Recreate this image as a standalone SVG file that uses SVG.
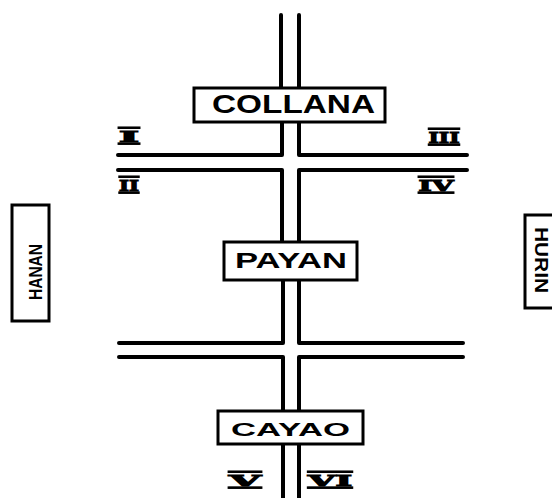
<svg xmlns="http://www.w3.org/2000/svg" width="552" height="498" viewBox="0 0 552 498">
<style>
.ln{fill:none;stroke:#000;stroke-width:4;stroke-linejoin:round;stroke-linecap:round}
.bx{fill:#fff;stroke:#000;stroke-width:3}
.t{font-family:"Liberation Sans",Arial,sans-serif;font-weight:bold;fill:#000}
.rn{font-family:"DejaVu Serif","Liberation Serif",serif;font-weight:bold;fill:#000;stroke:#000;stroke-width:1.3;font-size:19px;text-decoration:overline underline}
</style>
<rect width="552" height="498" fill="#fff"/>
<g id="connectors" class="ln">
<path d="M281,15 V88"/>
<path d="M299,15 V88"/>
<path d="M282,123 V155 H118"/>
<path d="M299,123 V155 H467"/>
<path d="M118,170 H282 V242"/>
<path d="M467,170 H299 V242"/>
<path d="M283,281 V343 H119"/>
<path d="M299,281 V343 H463"/>
<path d="M119,357 H283 V411"/>
<path d="M463,357 H299 V411"/>
<path d="M283,443 V498"/>
<path d="M299,443 V498"/>
</g>
<g id="collana">
<rect class="bx" x="194" y="88" width="191" height="34"/>
<text class="t" x="212" y="113" font-size="25" textLength="163" lengthAdjust="spacingAndGlyphs">COLLANA</text>
</g>
<g id="payan">
<rect class="bx" x="224" y="242" width="133" height="38"/>
<text class="t" x="235" y="268" font-size="22" textLength="112" lengthAdjust="spacingAndGlyphs">PAYAN</text>
</g>
<g id="cayao">
<rect class="bx" x="218" y="411" width="145" height="33"/>
<text class="t" x="231" y="436" font-size="19" textLength="119" lengthAdjust="spacingAndGlyphs">CAYAO</text>
</g>
<g id="hanan">
<rect class="bx" x="12" y="205" width="37" height="116"/>
<text class="t" transform="translate(42,272) rotate(-90)" x="0" y="0" font-size="19" text-anchor="middle" textLength="56" lengthAdjust="spacingAndGlyphs">HANAN</text>
</g>
<g id="hurin">
<rect class="bx" x="525" y="215" width="30" height="93"/>
<text class="t" transform="translate(535,260) rotate(90)" x="0" y="0" font-size="18" text-anchor="middle" textLength="66" lengthAdjust="spacingAndGlyphs">HURIN</text>
</g>
<g id="numerals">
<text class="rn" transform="translate(129,142) scale(1,0.8)" text-anchor="middle" textLength="20" lengthAdjust="spacingAndGlyphs">I</text>
<text class="rn" transform="translate(129,191) scale(1,0.8)" text-anchor="middle" textLength="20" lengthAdjust="spacingAndGlyphs">II</text>
<text class="rn" transform="translate(444,143) scale(1,0.8)" text-anchor="middle" textLength="31" lengthAdjust="spacingAndGlyphs">III</text>
<text class="rn" transform="translate(436,191) scale(1,0.8)" text-anchor="middle" textLength="35" lengthAdjust="spacingAndGlyphs">IV</text>
<text class="rn" transform="translate(245,486) scale(1,0.8)" text-anchor="middle" textLength="32" lengthAdjust="spacingAndGlyphs">V</text>
<text class="rn" transform="translate(330,486) scale(1,0.8)" text-anchor="middle" textLength="44" lengthAdjust="spacingAndGlyphs">VI</text>
</g>
</svg>
